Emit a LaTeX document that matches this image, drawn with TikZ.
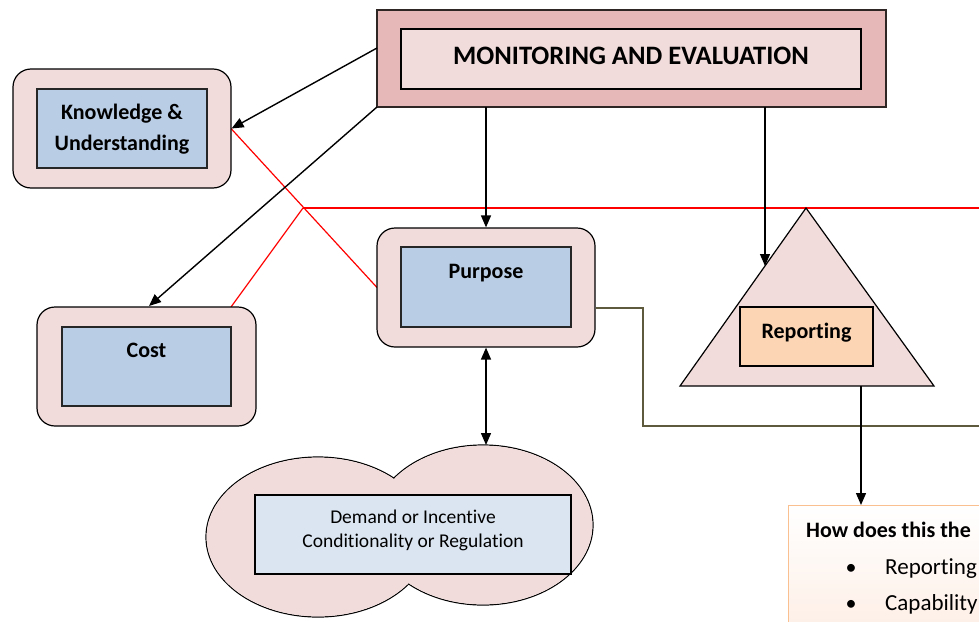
\documentclass[tikz,border=0pt]{standalone}
\usepackage{fontspec}
\setmainfont{Carlito}[Ligatures=NoCommon]
\usetikzlibrary{arrows.meta}
\definecolor{outerpink}{HTML}{E6B8B7}
\definecolor{lightpink}{HTML}{F2DCDB}
\definecolor{boxblue}{HTML}{B9CDE5}
\definecolor{paleblue}{HTML}{DBE5F1}
\definecolor{peach}{HTML}{FCD5B4}
\definecolor{olivegrey}{HTML}{5E5A3E}
\definecolor{orangeborder}{HTML}{FAC090}
\definecolor{palepeach}{HTML}{FDEDE3}
\tikzset{
  outerbox/.style={draw=black, line width=1.2pt, fill=lightpink, rounded corners=18pt, minimum width=218pt, minimum height=119pt, inner sep=0pt},
  innerbox/.style={draw=black!85, line width=1.1pt, fill=boxblue, minimum width=170pt, minimum height=79pt, inner sep=0pt},
  boldlabel/.style={font=\bfseries\fontsize{22}{31}\selectfont, align=center, inner sep=0pt},
  arr/.style={draw=black, line width=1.4pt, -{Triangle[length=12pt,width=10pt]}},
  darr/.style={draw=black, line width=1.4pt, {Triangle[length=12pt,width=10pt]}-{Triangle[length=12pt,width=10pt]}},
  redline/.style={draw=red, line width=1.2pt},
  oliveline/.style={draw=olivegrey, line width=1.2pt}
}
\begin{document}
\begin{tikzpicture}[x=1pt,y=-1pt]
\useasboundingbox (0,0) rectangle (979,621);
\clip (0,0) rectangle (979,621);

% coordinates
\coordinate (meA) at (377,48);
\coordinate (meB) at (377,107);
\coordinate (meC) at (486,107);
\coordinate (meD) at (765,107);
\coordinate (redjoin) at (303,208);
\coordinate (redend) at (985,208);
\coordinate (costtop) at (231,307);
\coordinate (costarr) at (149,306);
\coordinate (triapex) at (806,208);
\coordinate (trileft) at (680,386);
\coordinate (triright) at (934,386);
\coordinate (trihit) at (765,266);
\coordinate (tribase) at (861,386);
\coordinate (olA) at (643,308);
\coordinate (olB) at (643,426);
\coordinate (olC) at (985,426);
\coordinate (knowred) at (231,128.5);
\coordinate (purpred) at (377,287.5);

% red lines (behind)
\draw[redline] (redjoin) -- (redend);
\draw[redline] (redjoin) -- (costtop);
\draw[redline] (knowred) -- (purpred);

% Monitoring and evaluation
\node[draw=black!80!outerpink, line width=1.2pt, fill=outerpink, minimum width=509pt, minimum height=97pt, inner sep=0pt] (meout) at (631.5,58.5) {};
\node[draw=black, line width=1.1pt, fill=lightpink, minimum width=460pt, minimum height=60pt, inner sep=0pt] (me) at (631,59) {};
\node[inner sep=0pt, font=\bfseries\fontsize{26.6}{30}\selectfont] (metxt) at (631,55.5) {MONITORING AND EVALUATION};

% Knowledge
\node[outerbox] (know) at (122,128.5) {};
\node[innerbox] (knowin) at (122,128.5) {};
\node[boldlabel] (knowtxt) at (122,129.5) {Knowledge \&\\Understanding};

% Cost
\node[outerbox, minimum width=219pt] (cost) at (146.5,366.5) {};
\node[innerbox, minimum width=169pt] (costin) at (146.5,366.5) {};
\node[boldlabel] (costtxt) at (146.5,350) {Cost};

% Purpose
\node[outerbox] (purp) at (486,287.5) {};
\node[innerbox, minimum height=80pt] (purpin) at (486,287) {};
\node[boldlabel] (purptxt) at (486,273) {Purpose};

% Triangle and reporting
\filldraw[fill=lightpink, draw=black, line width=1.2pt] (triapex) -- (triright) -- (trileft) -- cycle;
\node[draw=black, line width=1.1pt, fill=peach, minimum width=133pt, minimum height=59pt, inner sep=0pt] (rep) at (806.5,336.5) {};
\node[boldlabel] (reptxt) at (806.5,333) {Reporting};

% olive connector
\draw[oliveline] (purp.east |- olA) -- (olA) -- (olB) -- (olC);

% Ellipses
\draw[line width=1.2pt] (318,537) ellipse [x radius=112, y radius=80];
\draw[line width=1.2pt] (483,525) ellipse [x radius=110, y radius=80];
\fill[lightpink] (318,537) ellipse [x radius=111.4, y radius=79.4];
\fill[lightpink] (483,525) ellipse [x radius=109.4, y radius=79.4];
\coordinate (elltop) at (486,445);
\node[draw=black, line width=1.1pt, fill=paleblue, minimum width=316pt, minimum height=79pt, inner sep=0pt] (dem) at (413,534.5) {};
\node[inner sep=0pt, font=\fontsize{19.5}{24.5}\selectfont, align=center] (demtxt) at (413,530.5) {Demand or Incentive\\Conditionality or Regulation};

% bottom box
\node[draw=orangeborder, line width=1.2pt, top color=white, bottom color=palepeach, minimum width=220pt, minimum height=140pt, inner sep=0pt, anchor=north west] (how) at (788,505) {};
\node[anchor=base west, inner sep=0pt, font=\bfseries\fontsize{22}{26}\selectfont] (howtxt) at (806,537) {How does this the};
\node[anchor=base, inner sep=0pt, font=\fontsize{22}{26}\selectfont] (b1) at (851,574) {\textbullet};
\node[anchor=base west, inner sep=0pt, font=\fontsize{23}{26}\selectfont] (r1) at (885,574) {Reporting};
\node[anchor=base, inner sep=0pt, font=\fontsize{22}{26}\selectfont] (b2) at (851,610) {\textbullet};
\node[anchor=base west, inner sep=0pt, font=\fontsize{23}{26}\selectfont] (r2) at (885,610) {Capability};

% arrows
\draw[arr] (meA) -- (know.east);
\draw[arr] (meB) -- (costarr);
\draw[arr] (meC) -- (purp.north);
\draw[arr] (meD) -- (trihit);
\draw[darr] (purp.south) -- (elltop);
\draw[arr] (tribase) -- (how.north west -| tribase);
\end{tikzpicture}
\end{document}
